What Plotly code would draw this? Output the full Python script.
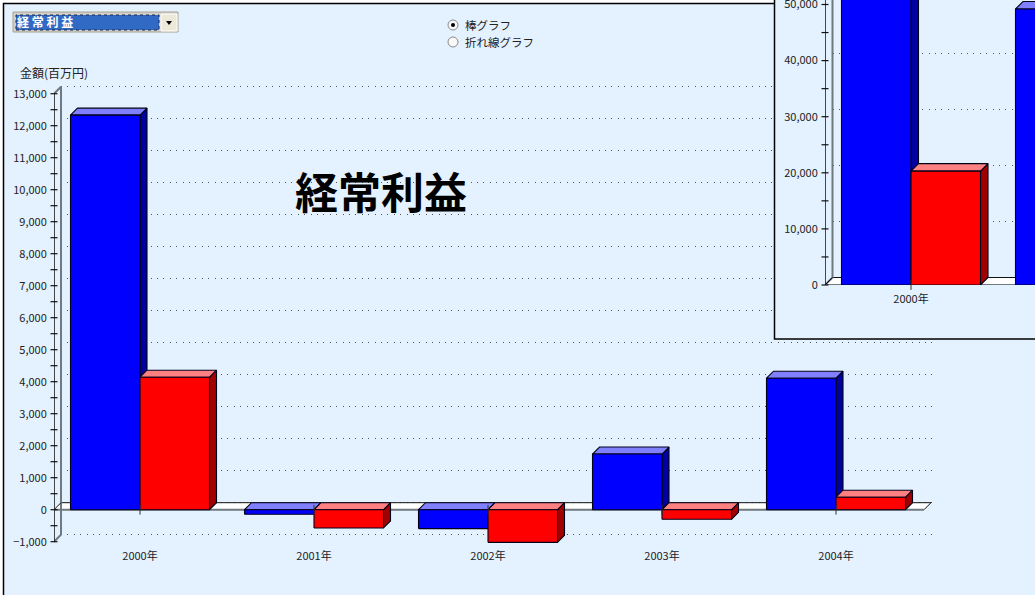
import plotly.graph_objects as go

# ---------- data ----------
years = ["2000年", "2001年", "2002年", "2003年", "2004年"]
blue_values = [12330, -140, -590, 1740, 4110]
red_values = [4140, -570, -1020, -300, 390]
main_ticks = [-1000, 0, 1000, 2000, 3000, 4000, 5000, 6000, 7000, 8000, 9000,
              10000, 11000, 12000, 13000]
main_tick_labels = ["−1,000", "0", "1,000", "2,000", "3,000", "4,000", "5,000", "6,000",
                    "7,000", "8,000", "9,000", "10,000", "11,000", "12,000", "13,000"]
main_minor = [-500, 500, 1500, 2500, 3500, 4500, 5500, 6500, 7500, 8500, 9500,
              10500, 11500, 12500]

inset_years = ["2000年", "2001年"]
inset_blue = [56000, 49200]
inset_red = [20300, None]
inset_ticks = [0, 10000, 20000, 30000, 40000, 50000]
inset_tick_labels = ["0", "10,000", "20,000", "30,000", "40,000", "50,000"]
inset_minor = [5000, 15000, 25000, 35000, 45000]

# ---------- style ----------
W, H = 1035, 595
BG = "#E4F1FE"
FONT = "Noto Sans CJK JP"
TXT = "#222222"
EDGE = "#000018"
BLUE, BLUE_TOP, BLUE_SIDE = "#0000FF", "#8080FF", "#0000A0"
RED, RED_TOP, RED_SIDE = "#FF0000", "#FF8080", "#A00000"
GRID_DASH = "1px,5.4px"


def px(x):
    return x / W


def py(y):
    return 1 - y / H


fig = go.Figure()


def axes_pair(n, left, right, top, bottom, xr, yr, **ykw):
    sx = "xaxis" if n == 1 else f"xaxis{n}"
    sy = "yaxis" if n == 1 else f"yaxis{n}"
    fig.layout[sx] = dict(domain=[px(left), px(right)], range=xr, showgrid=False, zeroline=False,
                          showticklabels=False, ticks="", showline=False, automargin=False,
                          anchor="y" if n == 1 else f"y{n}")
    base = dict(domain=[py(bottom), py(top)], range=yr, showgrid=False, zeroline=False,
                showticklabels=False, ticks="", showline=False, automargin=False,
                anchor="x" if n == 1 else f"x{n}")
    base.update(ykw)
    fig.layout[sy] = base


def build_chart(n_wall, n_front, x0, y_zero, y_per_px, spacing, bar_px, depth,
                left_front, right_plot, bottom_front, x_ticklen, grid_vals,
                tick_vals, tick_text, minor_vals, cats, blue, red, floor_right, is_main):
    """Draws one pseudo-3D bar chart: a wall subplot shifted by `depth`, and a front subplot."""
    unit = 1 / spacing  # category units per pixel
    pad = 3  # the wall reaches a little past the end gridlines so that they are drawn
    wall_left = left_front + depth
    wall_right = min(floor_right + depth + 4, W)
    xr_wall = [(wall_left - x0 - depth) * unit, (wall_right - x0 - depth) * unit]
    wall_bottom = y_zero - grid_vals[0] / y_per_px - depth + pad
    wall_top = max(y_zero - grid_vals[-1] / y_per_px - depth - pad, 0)
    axes_pair(n_wall, wall_left, wall_right, wall_top, wall_bottom, xr_wall,
              [(y_zero - depth - wall_bottom) * y_per_px, (y_zero - depth - wall_top) * y_per_px],
              showgrid=True, griddash=GRID_DASH, gridcolor="#555555", gridwidth=1,
              tickmode="array", tickvals=grid_vals)
    # a subplot without a trace is not drawn, so the wall carries an invisible one
    wall_x = "x" if n_wall == 1 else f"x{n_wall}"
    wall_y = "y" if n_wall == 1 else f"y{n_wall}"
    fig.add_trace(go.Scatter(x=[xr_wall[0]], y=[grid_vals[0]], mode="markers",
                             marker=dict(opacity=0, size=1), xaxis=wall_x, yaxis=wall_y,
                             hoverinfo="skip"))
    # front axes
    xr = [(left_front - x0) * unit, (right_plot - x0) * unit]
    yr = [(y_zero - bottom_front) * y_per_px, y_zero * y_per_px]
    axes_pair(n_front, left_front, right_plot, 0, bottom_front, xr, yr,
              showticklabels=True, tickmode="array", tickvals=tick_vals, ticktext=tick_text,
              tickfont=dict(family=FONT, size=11, color=TXT), ticks="outside", ticklen=4,
              tickcolor="rgba(0,0,0,0)", ticklabeloverflow="allow")
    sx = f"xaxis{n_front}"
    fig.layout[sx].update(showticklabels=True, tickmode="array",
                          tickvals=list(range(len(cats))), ticktext=cats,
                          tickfont=dict(family=FONT, size=11, color=TXT),
                          ticks="outside", ticklen=x_ticklen, tickcolor="rgba(0,0,0,0)")
    xa, ya = f"x{n_front}", f"y{n_front}"
    dx, dy = depth * unit, depth * y_per_px
    floor_end = (floor_right - x0) * unit
    axis_x = (left_front - x0) * unit
    common = dict(xaxis=xa, yaxis=ya, hoverinfo="skip", cliponaxis=False)
    # floor
    fig.add_trace(go.Scatter(x=[axis_x, axis_x + dx, floor_end + dx, floor_end, axis_x],
                             y=[0, dy, dy, 0, 0], mode="lines", fill="toself", fillcolor="#FFFFFF",
                             line=dict(color="rgba(0,0,0,0)", width=0), **common))
    fig.add_trace(go.Scatter(x=[axis_x + dx, floor_end + dx, floor_end], y=[dy, dy, 0], mode="lines",
                             line=dict(color="#111111", width=1), **common))
    fig.add_trace(go.Scatter(x=[axis_x, floor_end], y=[0, 0], mode="lines",
                             line=dict(color="#707880", width=2), **common))
    # wall edge and its diagonals
    low, high = tick_vals[0], tick_vals[-1]
    top_y = yr[1]
    if is_main:
        wx, wy = [axis_x, axis_x + dx, axis_x + dx, axis_x], [low, low + dy, high + dy, high]
        ax_top = high
    else:
        wx, wy = [axis_x, axis_x + dx, axis_x + dx], [low, low + dy, top_y]
        ax_top = top_y
    fig.add_trace(go.Scatter(x=wx, y=wy, mode="lines", line=dict(color="#707880", width=2), **common))
    fig.add_trace(go.Scatter(x=[axis_x, axis_x + dx], y=[0, dy], mode="lines",
                             line=dict(color="#111111", width=1), **common))
    # front axis line with ticks
    fig.add_trace(go.Scatter(x=[axis_x, axis_x], y=[low, ax_top], mode="lines",
                             line=dict(color="#111111", width=1.5), **common))
    fig.add_trace(go.Scatter(x=[axis_x] * len(tick_vals + minor_vals), y=tick_vals + minor_vals,
                             mode="markers",
                             marker=dict(symbol="line-ew", size=5, line=dict(color="#111111", width=1.2)),
                             **common))
    # front bars and their top/side faces
    half = bar_px * unit
    for sign, vals, col, top_col, side_col in ((-1, blue, BLUE, BLUE_TOP, BLUE_SIDE),
                                               (0, red, RED, RED_TOP, RED_SIDE)):
        for i, v in enumerate(vals):
            if v is None:
                continue
            l = i + sign * half
            r = l + half
            hi = max(v, 0)
            lo = min(v, 0)
            face = dict(mode="lines", fill="toself", line=dict(color=EDGE, width=1.1), **common)
            fig.add_trace(go.Scatter(x=[r, r + dx, r + dx, r, r], y=[lo, lo + dy, hi + dy, hi, lo],
                                     fillcolor=side_col, **face))
            fig.add_trace(go.Scatter(x=[l, l + dx, r + dx, r, l], y=[hi, hi + dy, hi + dy, hi, hi],
                                     fillcolor=top_col, **face))
            fig.add_trace(go.Scatter(x=[l, r, r, l, l], y=[lo, lo, hi, hi, lo],
                                     fillcolor=col, **face))
    # category ticks on the zero line
    fig.add_trace(go.Scatter(x=list(range(len(cats))), y=[0] * len(cats), mode="markers",
                             marker=dict(symbol="line-ns", size=7, line=dict(color="#333333", width=1)),
                             **common))


# main chart: wall (1), front (2)
build_chart(1, 2, x0=140, y_zero=509.7, y_per_px=31.25, spacing=174, bar_px=69.5, depth=7,
            left_front=54, right_plot=1035, bottom_front=544.7, x_ticklen=1,
            grid_vals=main_ticks, tick_vals=main_ticks, tick_text=main_tick_labels,
            minor_vals=main_minor, cats=years, blue=blue_values, red=red_values,
            floor_right=924, is_main=True)

# panel that hides the main grid behind the inset (3)
axes_pair(3, 0, W, 0, H, [0, W], [H, 0])
fig.add_trace(go.Scatter(x=[774.5, 774.5, 1040, 1040, 774.5], y=[-5, 339, 339, -5, -5], mode="lines",
                         fill="toself", fillcolor=BG, line=dict(color="#000000", width=1.5),
                         xaxis="x3", yaxis="y3", hoverinfo="skip"))

# inset chart: wall (4), front (5)
build_chart(4, 5, x0=911, y_zero=285, y_per_px=10000 / 56.1, spacing=174, bar_px=69.5, depth=7.5,
            left_front=825, right_plot=1035, bottom_front=285, x_ticklen=4,
            grid_vals=[0, 10000, 20000, 30000, 40000, 50000, 60000],
            tick_vals=inset_ticks, tick_text=inset_tick_labels, minor_vals=inset_minor,
            cats=inset_years, blue=inset_blue, red=inset_red,
            floor_right=1035, is_main=False)

# ---------- page furniture ----------
shapes = [
    dict(type="rect", xref="paper", yref="paper", x0=px(3.5), x1=px(1040), y0=py(600), y1=py(3.5),
         fillcolor=BG, line=dict(color="#000000", width=1.5), layer="below"),
    # drop-down
    dict(type="rect", xref="paper", yref="paper", x0=px(13), x1=px(178), y0=py(32), y1=py(12),
         fillcolor="#D4D0C8", line=dict(color="#A8A490", width=1), layer="above"),
    dict(type="rect", xref="paper", yref="paper", x0=px(16), x1=px(159), y0=py(30), y1=py(15),
         fillcolor="#316AC5", line=dict(color="#1A2A50", width=1, dash="dot"), layer="above"),
    dict(type="rect", xref="paper", yref="paper", x0=px(161), x1=px(177), y0=py(31), y1=py(14),
         fillcolor="#ECE9D8", line=dict(color="#FFFFFF", width=1), layer="above"),
    dict(type="path", xref="paper", yref="paper",
         path=f"M{px(166)},{py(21)} L{px(172)},{py(21)} L{px(169)},{py(25)} Z",
         fillcolor="#000000", line=dict(width=0), layer="above"),
]
for cy, on in ((25, True), (42, False)):
    shapes.append(dict(type="circle", xref="paper", yref="paper", x0=px(448), x1=px(458),
                       y0=py(cy + 5), y1=py(cy - 5), fillcolor="#F8F8F8",
                       line=dict(color="#8A8A8A", width=1), layer="above"))
    if on:
        shapes.append(dict(type="circle", xref="paper", yref="paper", x0=px(451), x1=px(455),
                           y0=py(cy + 2), y1=py(cy - 2), fillcolor="#000000",
                           line=dict(width=0), layer="above"))


def note(text, x, y, size=11, color=TXT, bold=False, anchor="left"):
    return dict(text=f"<b>{text}</b>" if bold else text, x=px(x), y=py(y), xref="paper", yref="paper",
                xanchor=anchor, yanchor="middle", showarrow=False,
                font=dict(family=FONT, size=size, color=color))


annotations = [
    note("経常利益", 381, 190.5, size=43, color="#000000", bold=True, anchor="center"),
    note("金額(百万円)", 18, 72, size=12),
    note("棒グラフ", 463, 25, size=11.5),
    note("折れ線グラフ", 463, 42, size=11.5),
    note("経 常 利 益", 15, 22, size=12, color="#FFFFFF", bold=True),
]

fig.update_layout(width=W, height=H, margin=dict(l=0, r=0, t=0, b=0), showlegend=False,
                  paper_bgcolor="#FFFFFF", plot_bgcolor="rgba(0,0,0,0)",
                  shapes=shapes, annotations=annotations, font=dict(family=FONT),
                  hovermode=False)

fig.write_html("out.html", config={"displayModeBar": False},
               post_script="document.body.style.margin='0';document.body.style.overflow='hidden';")
